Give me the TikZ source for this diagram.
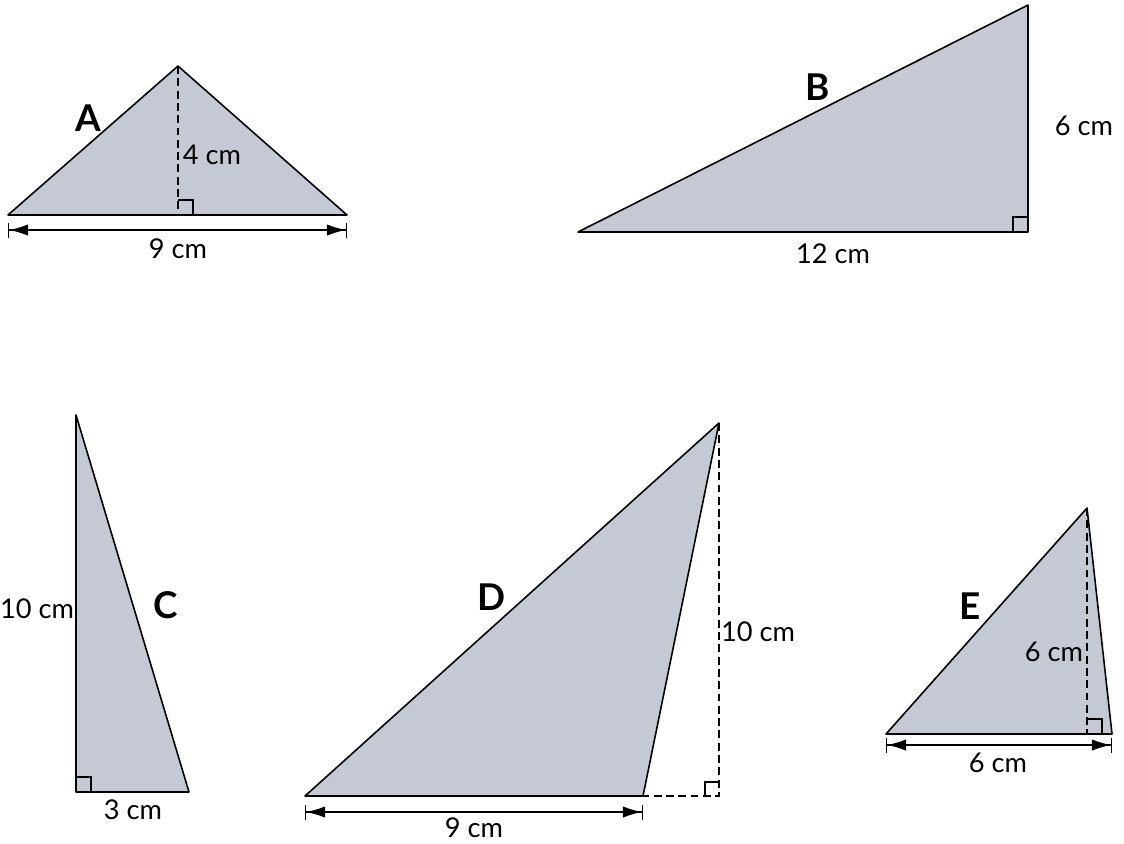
\documentclass[tikz,border=0pt]{standalone}
\usepackage{fontspec}
\setmainfont{Lato}
\usetikzlibrary{arrows.meta}
\definecolor{shade}{RGB}{197,201,211}

\begin{document}
\begin{tikzpicture}[
    x=0.02cm, y=-0.02cm,
    tri/.style={draw=black, fill=shade, line width=0.9pt, line join=round},
    altitude/.style={line width=0.7pt, dash pattern=on 4.5pt off 2.5pt},
    rightangle/.style={draw=black, line width=0.7pt},
    dimline/.style={line width=0.7pt, {Bar[width=3mm]Latex[length=3.8mm,width=2.3mm]}-{Latex[length=3.8mm,width=2.3mm]Bar[width=3mm]}},
    lbl/.style={font=\fontsize{15.5}{18}\selectfont, inner sep=1pt},
    triname/.style={font=\fontsize{21}{24}\selectfont\bfseries, inner sep=1pt}
]
\useasboundingbox (0,0) rectangle (1124,843);

% --- Triangle A ---
\coordinate (aL) at (8,215);
\coordinate (aT) at (178,66);
\coordinate (aR) at (347,215);
\coordinate (aF) at (178,215);
\draw[tri] (aL) -- (aT) -- (aR) -- cycle;
\draw[altitude] (aT) -- (aF);
\draw[rightangle] (aF) ++(0,-15) -| ++(15,15);
\draw[dimline] (8,230) -- (347,230);
\node[lbl] (aBase) at (178,249) {9 cm};
\node[lbl] (aHeight) at (212,155) {4 cm};
\node[triname] (aName) at (88,118) {A};

% --- Triangle B ---
\coordinate (bL) at (578,232);
\coordinate (bT) at (1028,5);
\coordinate (bR) at (1028,232);
\draw[tri] (bL) -- (bT) -- (bR) -- cycle;
\draw[rightangle] (bR) ++(-15,0) |- ++(15,-15);
\node[lbl] (bBase) at (833,254) {12 cm};
\node[lbl] (bHeight) at (1084,126) {6 cm};
\node[triname] (bName) at (818,87) {B};

% --- Triangle C ---
\coordinate (cT) at (76,415);
\coordinate (cL) at (76,792);
\coordinate (cR) at (189,792);
\draw[tri] (cT) -- (cL) -- (cR) -- cycle;
\draw[rightangle] (cL) ++(0,-15) -| ++(15,15);
\node[lbl] (cBase) at (133,810) {3 cm};
\node[lbl] (cHeight) at (37,609) {10 cm};
\node[triname] (cName) at (166,605) {C};

% --- Triangle D ---
\coordinate (dL) at (305,796);
\coordinate (dT) at (719,423);
\coordinate (dR) at (643,796);
\coordinate (dF) at (719,796);
\draw[tri] (dL) -- (dT) -- (dR) -- cycle;
\draw[altitude] (dT) -- (dF) -- (dR);
\draw[rightangle] (dF) ++(-14,0) |- ++(14,-14);
\draw[dimline] (305,812) -- (643,812);
\node[lbl] (dBase) at (474,828) {9 cm};
\node[lbl] (dHeight) at (758,632) {10 cm};
\node[triname] (dName) at (492,597) {D};

% --- Triangle E ---
\coordinate (eL) at (886,734);
\coordinate (eT) at (1087,508);
\coordinate (eR) at (1112,734);
\coordinate (eF) at (1087,734);
\draw[tri] (eL) -- (eT) -- (eR) -- cycle;
\draw[altitude] (eT) -- (eF);
\draw[rightangle] (eF) ++(0,-15) -| ++(15,15);
\draw[dimline] (886,745) -- (1112,745);
\node[lbl] (eBase) at (998,763) {6 cm};
\node[lbl] (eHeight) at (1054,652) {6 cm};
\node[triname] (eName) at (970,606) {E};

\end{tikzpicture}
\end{document}
